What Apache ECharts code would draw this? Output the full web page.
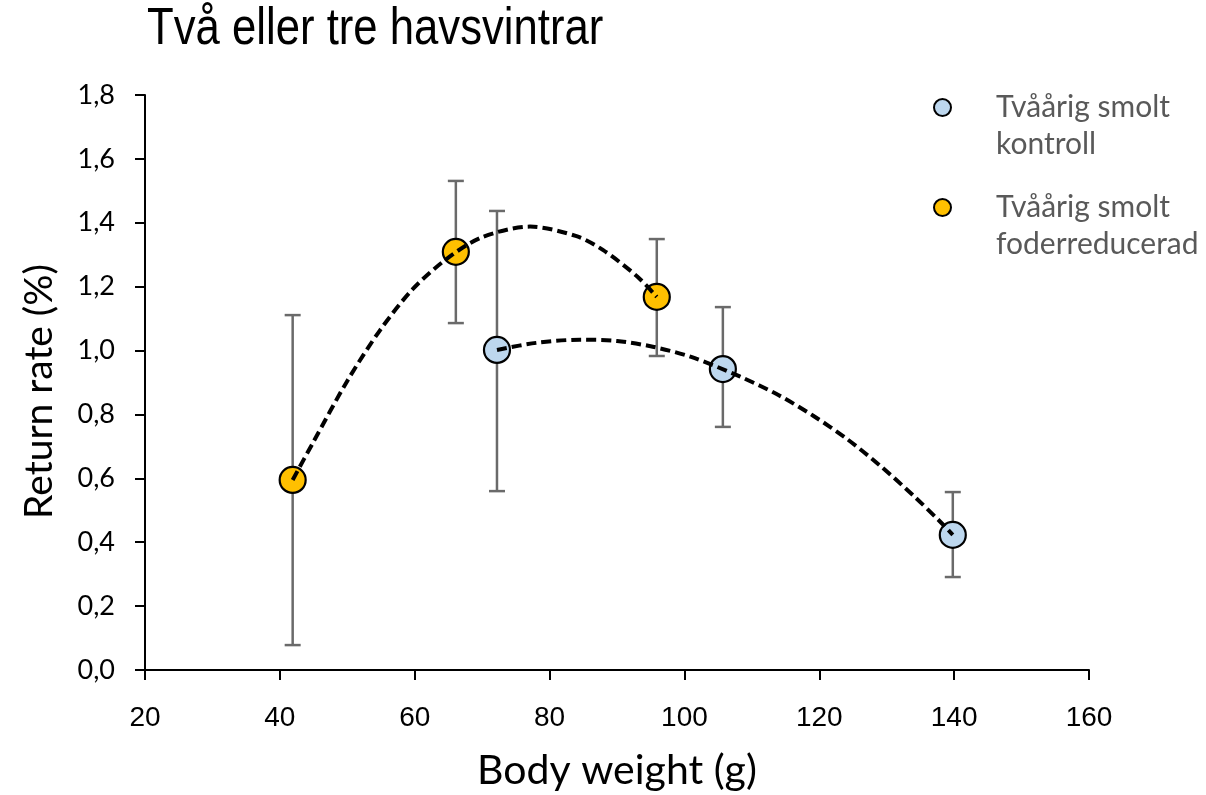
<!DOCTYPE html>
<html>
<head>
<meta charset="utf-8">
<script src="https://cdn.jsdelivr.net/npm/echarts@6/dist/echarts.min.js"></script>
<style>
html,body{margin:0;padding:0;background:#fff;overflow:hidden;}
#chart{width:1206px;height:795px;}
</style>
</head>
<body>
<div id="chart"></div>
<script>
// ---- data ----
const titleText = 'Två eller tre havsvintrar';
const xAxisTitle = 'Body weight (g)';
const yAxisTitle = 'Return rate (%)';
const seriesNames = ['Tvåårig smolt\nkontroll', 'Tvåårig smolt\nfoderreducerad'];

const weightsKontroll = [72.2, 105.7, 139.8];
const ratesKontroll   = [1.002, 0.942, 0.423];
const lowKontroll     = [0.560, 0.761, 0.291];
const highKontroll    = [1.437, 1.136, 0.557];

const weightsFoder = [41.9, 66.1, 95.9];
const ratesFoder   = [0.595, 1.309, 1.168];
const lowFoder     = [0.078, 1.086, 0.983];
const highFoder    = [1.111, 1.531, 1.349];

// dashed trend curves
const trendFoderX = [41.9, 44.9, 50.0, 54.9, 59.7, 64.8, 70.0, 77.1, 84.0, 87.9, 93.0, 95.9];
const trendFoderY = [0.595, 0.711, 0.905, 1.065, 1.192, 1.288, 1.355, 1.388, 1.358, 1.315, 1.232, 1.168];
const trendKontrollX = [72.2, 78.0, 84.5, 90.0, 95.3, 101.0, 108.2, 114.0, 119.1, 124.0, 129.0, 134.0, 137.9, 139.8];
const trendKontrollY = [1.002, 1.024, 1.034, 1.030, 1.012, 0.980, 0.919, 0.860, 0.796, 0.725, 0.640, 0.545, 0.465, 0.423];

const xTicks = {min: 20, max: 160, interval: 20};
const yTicks = {min: 0, max: 1.8, interval: 0.2};

// ---- build ----
const zip = (a, b) => a.map((v, i) => [v, b[i]]);
const zip3 = (a, b, c) => a.map((v, i) => [v, b[i], c[i]]);

const colors = {kontroll: '#BDD7EE', foder: '#FFC000'};

function errorBarItem(params, api) {
  const x = api.value(0);
  const top = api.coord([x, api.value(2)]);
  const bot = api.coord([x, api.value(1)]);
  const half = 8;
  const style = {stroke: '#6a6a6a', lineWidth: 2.5};
  return {
    type: 'group',
    children: [
      {type: 'line', shape: {x1: top[0], y1: top[1], x2: bot[0], y2: bot[1]}, style},
      {type: 'line', shape: {x1: top[0] - half, y1: top[1], x2: top[0] + half, y2: top[1]}, style},
      {type: 'line', shape: {x1: bot[0] - half, y1: bot[1], x2: bot[0] + half, y2: bot[1]}, style}
    ]
  };
}

const axisLine = {show: true, lineStyle: {color: '#000', width: 2}};
const axisTick = {show: true, length: 10, inside: false, lineStyle: {color: '#000', width: 2}};
const calibriLike = 'Lato, "Open Sans", sans-serif';

const option = {
  backgroundColor: '#fff',
  animation: false,
  graphic: [{
    type: 'text',
    left: 147, top: 4,
    scaleX: 0.84,
    style: {
      text: titleText,
      fontFamily: "'Liberation Sans', Arial, sans-serif",
      fontSize: 52,
      fill: '#000'
    }
  }],
  grid: {left: 145, right: 117, top: 95, bottom: 125, containLabel: false, outerBoundsMode: 'none'},
  legend: {
    orient: 'vertical',
    left: 933, top: 52,
    padding: 0,
    itemGap: -11,
    icon: 'circle',
    itemWidth: 17, itemHeight: 17,
    data: seriesNames,
    formatter: name => '\n' + name,
    itemStyle: {borderColor: '#000', borderWidth: 2},
    textStyle: {fontFamily: calibriLike, fontSize: 30, color: '#595959', lineHeight: 37, padding: [0, 0, 0, 40]}
  },
  xAxis: {
    type: 'value', min: xTicks.min, max: xTicks.max, interval: xTicks.interval,
    name: xAxisTitle, nameLocation: 'middle', nameGap: 80,
    nameTextStyle: {fontFamily: calibriLike, fontSize: 41, color: '#000'},
    axisLine, axisTick, splitLine: {show: false},
    axisLabel: {margin: 34, fontFamily: "'Liberation Sans', Arial, sans-serif", fontSize: 28, color: '#000'}
  },
  yAxis: {
    type: 'value', min: yTicks.min, max: yTicks.max, interval: yTicks.interval,
    name: yAxisTitle, nameLocation: 'middle', nameGap: 86, nameRotate: 90,
    nameTextStyle: {fontFamily: calibriLike, fontSize: 39, color: '#000', padding: [0, 18, 0, 0]},
    axisLine, axisTick, splitLine: {show: false},
    axisLabel: {margin: 30, fontFamily: calibriLike, fontSize: 27, color: '#000',
      formatter: v => v.toFixed(1).replace('.', ',')}
  },
  series: [
    {
      type: 'custom', name: 'err-kontroll', z: 1, silent: true,
      renderItem: errorBarItem, encode: {x: 0, y: [1, 2]},
      data: zip3(weightsKontroll, lowKontroll, highKontroll)
    },
    {
      type: 'custom', name: 'err-foder', z: 1, silent: true,
      renderItem: errorBarItem, encode: {x: 0, y: [1, 2]},
      data: zip3(weightsFoder, lowFoder, highFoder)
    },
    {
      type: 'scatter', name: seriesNames[0], z: 2,
      symbol: 'circle', symbolSize: 26,
      itemStyle: {color: colors.kontroll, borderColor: '#000', borderWidth: 2.2, opacity: 1},
      data: zip(weightsKontroll, ratesKontroll)
    },
    {
      type: 'scatter', name: seriesNames[1], z: 2,
      symbol: 'circle', symbolSize: 26,
      itemStyle: {color: colors.foder, borderColor: '#000', borderWidth: 2.2, opacity: 1},
      data: zip(weightsFoder, ratesFoder)
    },
    {
      type: 'line', name: 'trend-foder', z: 3, smooth: 0.3, showSymbol: false, symbol: 'none', silent: true,
      lineStyle: {color: '#000', width: 4, type: [10, 5]},
      data: zip(trendFoderX, trendFoderY)
    },
    {
      type: 'line', name: 'trend-kontroll', z: 3, smooth: 0.3, showSymbol: false, symbol: 'none', silent: true,
      lineStyle: {color: '#000', width: 4, type: [10, 5]},
      data: zip(trendKontrollX, trendKontrollY)
    }
  ]
};

const chart = echarts.init(document.getElementById('chart'), null, {renderer: 'canvas', width: 1206, height: 795});
chart.setOption(option);
</script>
</body>
</html>
